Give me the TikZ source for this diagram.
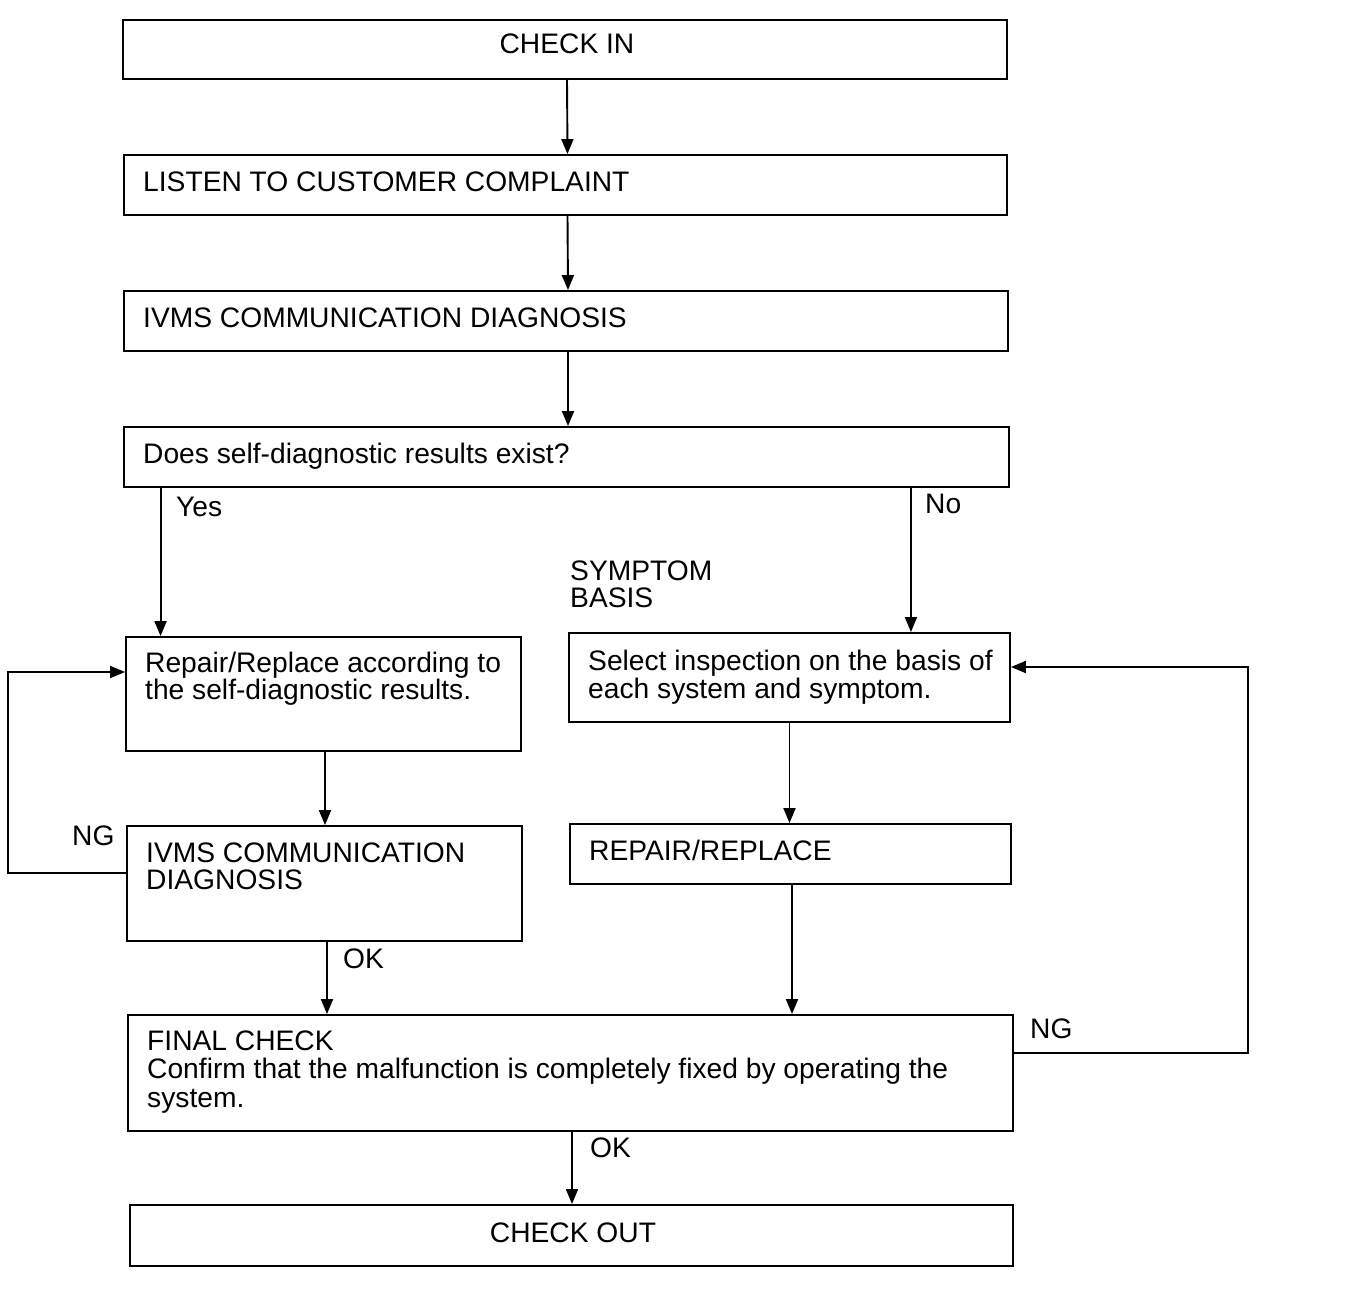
\documentclass[tikz,border=0pt]{standalone}
\usepackage{fontspec}
\setmainfont{Liberation Sans}
\usetikzlibrary{arrows.meta}
\begin{document}
\begin{tikzpicture}[x=1pt,y=-1pt,
  box/.style={draw,line width=1.9pt,inner sep=0pt,minimum width=#1},
  lbl/.style={anchor=base west,inner sep=0pt,font=\fontsize{28.2}{28.5}\selectfont},
  clbl/.style={anchor=base,inner sep=0pt,font=\fontsize{28.2}{28.5}\selectfont},
  arr/.style={line width=1.9pt,-{Triangle[length=15pt,width=12pt]}}]
\useasboundingbox[fill=white] (0,0) rectangle (1360,1290);
% boxes
\node[box=884pt,minimum height=59pt] (b1) at (565,49.5) {};
\node[box=883pt,minimum height=60pt] (b2) at (565.5,185) {};
\node[box=884pt,minimum height=60pt] (b3) at (566,321) {};
\node[box=885pt,minimum height=60pt] (b4) at (566.5,457) {};
\node[box=395pt,minimum height=114pt] (rep) at (323.5,694) {};
\node[box=441pt,minimum height=89pt] (sel) at (789.5,677.5) {};
\node[box=395pt,minimum height=115pt] (iv2) at (324.5,883.5) {};
\node[box=441pt,minimum height=60pt] (rr) at (790.5,854) {};
\node[box=885pt,minimum height=116pt] (fin) at (570.5,1073) {};
\node[box=883pt,minimum height=61pt] (co) at (571.5,1235.5) {};
% texts
\node[clbl] (t1) at (567,54) {CHECK IN};
\node[lbl] (t2) at (143,191) {LISTEN TO CUSTOMER COMPLAINT};
\node[lbl] (t3) at (143,327) {IVMS COMMUNICATION DIAGNOSIS};
\node[lbl] (t4) at (143,463) {Does self-diagnostic results exist?};
\node[lbl] (yes) at (176,516) {Yes};
\node[lbl] (no) at (925,513) {No};
\node[lbl] (sb1) at (570,580) {SYMPTOM};
\node[lbl] (sb2) at (570,607) {BASIS};
\node[lbl] (t5a) at (145,672) {Repair/Replace according to};
\node[lbl] (t5b) at (145,699) {the self-diagnostic results.};
\node[lbl] (t6a) at (588,670) {Select inspection on the basis of};
\node[lbl] (t6b) at (588,698) {each system and symptom.};
\node[lbl] (ngl) at (72,845) {NG};
\node[lbl] (t7a) at (146,862) {IVMS COMMUNICATION};
\node[lbl] (t7b) at (146,889) {DIAGNOSIS};
\node[lbl] (t8) at (589,860) {REPAIR/REPLACE};
\node[lbl] (ok1) at (343,968) {OK};
\node[lbl] (ngr) at (1030,1038) {NG};
\node[lbl] (t9a) at (147,1050) {FINAL CHECK};
\node[lbl] (t9b) at (147,1078) {Confirm that the malfunction is completely fixed by operating the};
\node[lbl] (t9c) at (147,1107) {system.};
\node[lbl] (ok2) at (590,1157) {OK};
\node[clbl] (t10) at (573,1242) {CHECK OUT};
% helper corners
\coordinate (cl) at (8,672);
\coordinate (cr) at (1248,667);
% connectors
\draw[arr] ([xshift=2pt]b1.south) -- ([xshift=2pt]b2.north);
\draw[arr] ([xshift=2pt]b2.south) -- ([xshift=2pt]b3.north);
\draw[arr] ([xshift=2pt]b3.south) -- ([xshift=1.5pt]b4.north);
\draw[arr] ([xshift=35.5pt]rep.north west |- b4.south) -- ([xshift=35.5pt]rep.north west);
\draw[arr] ([xshift=-100pt]sel.north east |- b4.south) -- ([xshift=-100pt]sel.north east);
\draw[arr] ([xshift=1.5pt]rep.south) -- ([xshift=0.5pt]iv2.north);
\draw[arr] (sel.south) -- (sel.south |- rr.north);
\draw[arr] ([xshift=1.5pt]rr.south) -- ([xshift=1.5pt]rr.south |- fin.north);
\draw[arr] ([xshift=2.5pt]iv2.south) -- ([xshift=2.5pt]iv2.south |- fin.north);
\draw[arr] ([xshift=1.5pt]fin.south) -- ([xshift=0.5pt]co.north);
\draw[arr] ([yshift=10.5pt]iv2.west) -| (cl) -- ([yshift=22pt]rep.west);
\draw[arr] ([yshift=20pt]fin.east) -| (cr) -- ([yshift=10.5pt]sel.east);
\end{tikzpicture}
\end{document}
